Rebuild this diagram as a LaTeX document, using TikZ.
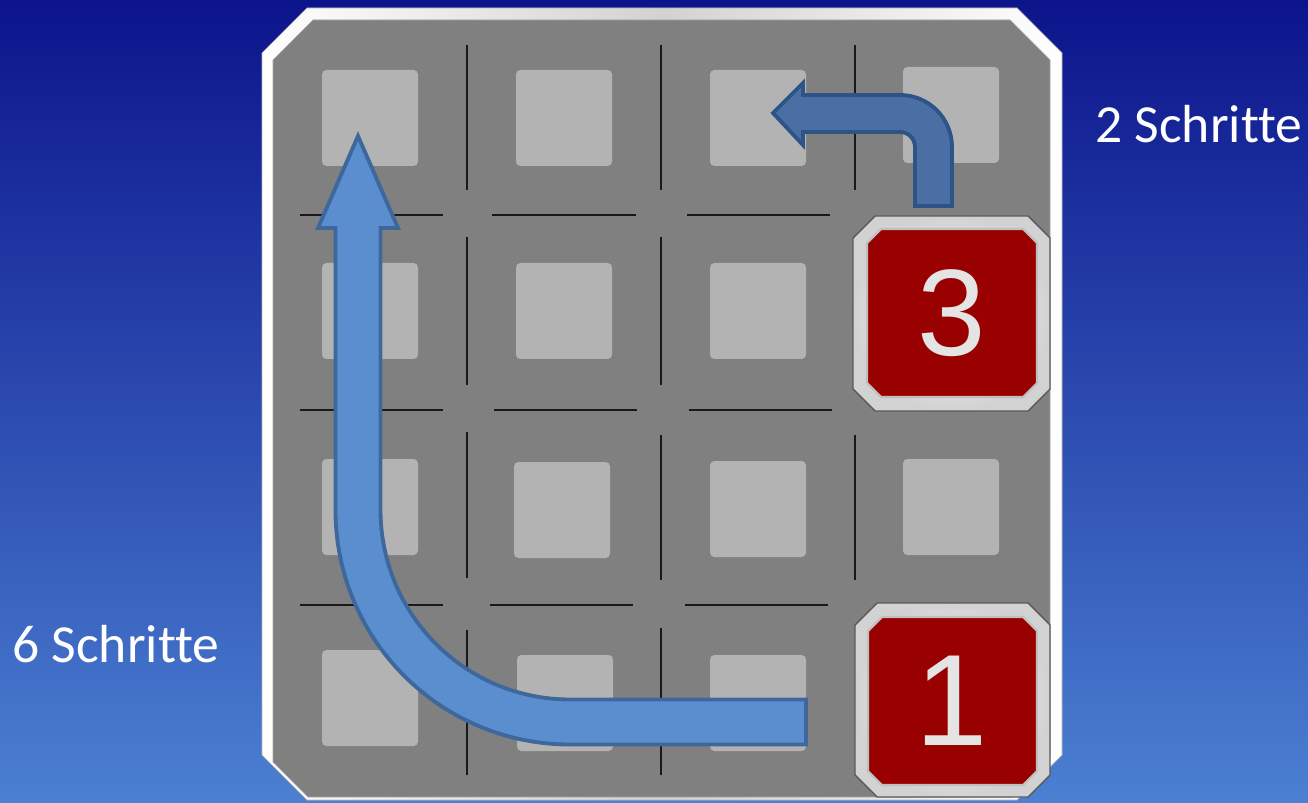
\documentclass[tikz,border=0pt]{standalone}
\usepackage{fontspec}
\setmainfont{Carlito}[Ligatures=NoCommon]
\newfontfamily\digitfont{Liberation Sans}
\definecolor{bgtop}{RGB}{12,20,140}
\definecolor{bgbot}{RGB}{75,128,210}
\definecolor{boardgray}{RGB}{128,128,128}
\definecolor{tilegray}{RGB}{179,179,179}
\definecolor{gridline}{RGB}{25,25,25}
\definecolor{redtile}{RGB}{153,0,0}
\definecolor{digitgray}{RGB}{228,228,228}
\definecolor{bigfill}{RGB}{90,142,207}
\definecolor{bigedge}{RGB}{62,104,156}
\definecolor{smallfill}{RGB}{74,111,165}
\definecolor{smalledge}{RGB}{46,84,135}
\tikzset{
  px/.style={x=0.02cm,y=0.02cm},
  tilesq/.style={fill=tilegray, draw=none, rounded corners=2.5pt},
  gline/.style={draw=gridline, line width=0.9pt},
  frameouter/.style={left color=white, right color=white, middle color=gray!35, draw=gray!60, line width=0.4pt},
  frameinner/.style={fill=boardgray, draw=gray!70, line width=0.4pt},
  numouter/.style={inner color=white, outer color=gray!35, draw=black!65, line width=0.8pt},
  numinner/.style={fill=redtile, draw=gray!50, line width=1.2pt},
  digit/.style={text=digitgray, font=\digitfont\fontsize{70}{70}\selectfont, inner sep=0pt},
  steplabel/.style={text=white, font=\fontsize{30.5}{31}\selectfont, inner sep=0pt},
  bigarrow/.style={fill=bigfill, draw=bigedge, line width=2.2pt, line join=miter},
  smallarrow/.style={fill=smallfill, draw=smalledge, line width=2.2pt, line join=miter}
}
\begin{document}
\begin{tikzpicture}[px]
% background
\shade[top color=bgtop, bottom color=bgbot] (0,0) rectangle (1308,802);
\useasboundingbox (0,0) rectangle (1308,802);
% board frame
\path[frameouter] (307,794) -- (1017,794) -- (1062,749) -- (1062,47) -- (1017,2) -- (307,2) -- (262,47) -- (262,749) -- cycle;
\path[frameinner] (313,782) -- (1010,782) -- (1050,742) -- (1050,45) -- (1012,5) -- (308,5) -- (273,40) -- (273,742) -- cycle;
% tiles
\foreach \x/\y [count=\i] in {322/70,516/70,710/70,903/67,
                              322/263,516/263,710/263,
                              322/459,514/462,710/461,903/459,
                              322/650,517/655,710/655}{
  \path[tilesq] (\x,{802-\y-96}) rectangle ({\x+96},{802-\y});
}
% grid lines (horizontal)
\foreach \a/\b/\Y in {300/443/587,492/636/587,687/830/587,
                      300/443/392,494/637/392,689/832/392,
                      300/443/197,490/633/197,685/828/197}{
  \draw[gline] (\a,\Y) -- (\b,\Y);
}
% grid lines (vertical)
\foreach \X/\a/\b in {467/757/612,467/565/417,467/370/224,467/172/27,
                      661/757/612,661/565/417,661/367/222,661/174/27,
                      855/757/612,855/367/222}{
  \draw[gline] (\X,\a) -- (\X,\b);
}
% big arrow (6 Schritte)
\draw[bigarrow] (806,102.5) -- (570,102.5) arc[start angle=270, end angle=180, radius=189.5]
  -- (380.5,574) -- (398,574) -- (358,666) -- (318,574) -- (335.5,574) -- (335.5,292)
  arc[start angle=180, end angle=270, radius=234.5] -- (806,57.5) -- cycle;
% small arrow (2 Schritte)
\draw[smallarrow] (915,596) -- (915,655) arc[start angle=0, end angle=90, radius=15]
  -- (803,670) -- (803,657) -- (773,689) -- (803,719) -- (803,707) -- (900,707)
  arc[start angle=90, end angle=0, radius=52] -- (952,596) -- cycle;
% numbered tile 3
\path[numouter] (875,586) -- (1028,586) -- (1050,564) -- (1050,413) -- (1028,391) -- (875,391) -- (853,413) -- (853,564) -- cycle;
\path[numinner] (881,573) -- (1023,573) -- (1037,559) -- (1037,419) -- (1023,405) -- (881,405) -- (867,419) -- (867,559) -- cycle;
\node[digit] (three) at (951.5,489) {3};
% numbered tile 1
\path[numouter] (877,199) -- (1028,199) -- (1050,177) -- (1050,27) -- (1028,5) -- (877,5) -- (855,27) -- (855,177) -- cycle;
\path[numinner] (882,185) -- (1023,185) -- (1037,171) -- (1037,31) -- (1023,17) -- (882,17) -- (868,31) -- (868,171) -- cycle;
\node[digit, font=\digitfont\fontsize{74}{74}\selectfont] (one) at (952,101) {1};
% labels
\node[steplabel, anchor=base west] (two) at (1095,659) {2 Schritte};
\node[steplabel, anchor=base west] (six) at (12,140) {6 Schritte};
\end{tikzpicture}
\end{document}
